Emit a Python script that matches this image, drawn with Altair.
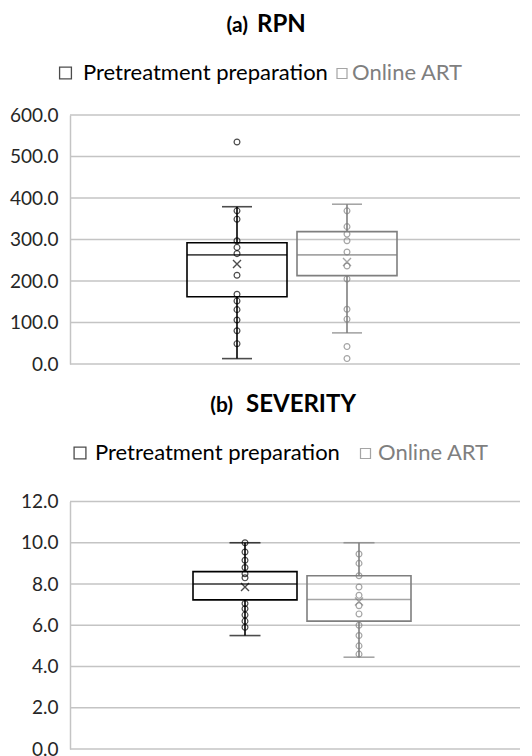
import altair as alt
import pandas as pd

# ---------------- data ----------------
series = ["Pretreatment preparation", "Online ART"]
colors = ["#000000", "#7f7f7f"]

# (a) RPN box statistics (per series)
rpn_lo = [13, 75]
rpn_q1 = [162, 213]
rpn_med = [263, 263]
rpn_q3 = [292, 319]
rpn_hi = [379, 385]
rpn_mean = [241, 246]
rpn_pts_pre = [535, 369, 349, 297, 281, 266, 214, 168, 152, 131, 106, 80, 49]
rpn_pts_art = [369, 331, 313, 297, 270, 236, 205, 132, 108, 42, 13]
rpn_ticks = [0, 100, 200, 300, 400, 500, 600]

# (b) SEVERITY box statistics
sev_lo = [5.5, 4.45]
sev_q1 = [7.23, 6.2]
sev_med = [8.0, 7.25]
sev_q3 = [8.6, 8.4]
sev_hi = [10.0, 10.0]
sev_mean = [7.85, 7.15]
sev_pts_pre = [10.0, 9.55, 9.15, 8.8, 8.5, 8.3, 7.05, 6.8, 6.5, 6.2, 5.9]
sev_pts_art = [9.45, 9.0, 8.4, 7.85, 7.45, 6.95, 6.55, 6.0, 5.5, 5.0, 4.6]
sev_ticks = [0, 2, 4, 6, 8, 10, 12]

titles_a = ["(a)", "RPN"]
titles_b = ["(b)", "SEVERITY"]

FONT = "Lato"
GRID = "#c4c4c4"
W = 450


def panel(lo, q1, med, q3, hi, mean, pts_pre, pts_art, ticks, yrange,
          xrange, pin, pout, bw, cap, titles, title_pos, legend_pos):
    stats = pd.DataFrame({"series": series, "lo": lo, "q1": q1, "med": med,
                          "q3": q3, "hi": hi, "mean": mean})
    pts = pd.DataFrame({
        "series": [series[0]] * len(pts_pre) + [series[1]] * len(pts_art),
        "v": list(pts_pre) + list(pts_art)})
    tk = pd.DataFrame({"t": ticks})

    xs = alt.Scale(domain=series, range=xrange, paddingInner=pin,
                   paddingOuter=pout)
    X = alt.X("series:N", scale=xs, axis=None)
    ys = alt.Scale(domain=[ticks[0], ticks[-1]], range=yrange, nice=False)
    ax = alt.Axis(values=ticks, format=".1f", grid=False, domain=True,
                  domainColor=GRID, domainWidth=1.5, ticks=False,
                  labelFont=FONT, labelFontSize=19, labelColor="#262626",
                  labelPadding=12, orient="left", title=None)
    col = alt.Color("series:N", scale=alt.Scale(domain=series, range=colors),
                    legend=None)
    stk = alt.Stroke("series:N", scale=alt.Scale(domain=series, range=colors),
                     legend=None)

    grid = alt.Chart(tk).mark_rule(color=GRID, strokeWidth=1.3).encode(
        y=alt.Y("t:Q", scale=ys, axis=ax), x=alt.value(0), x2=alt.value(W))
    base = alt.Chart(stats)
    whisk_lo = base.mark_rule(strokeWidth=1.6).encode(
        x=X, y=alt.Y("lo:Q", scale=ys, axis=ax), y2="q1:Q", color=col)
    whisk_hi = base.mark_rule(strokeWidth=1.6).encode(
        x=X, y=alt.Y("q3:Q", scale=ys, axis=ax), y2="hi:Q", color=col)
    box = base.mark_bar(fillOpacity=0, strokeWidth=1.6).encode(
        x=X, y=alt.Y("q1:Q", scale=ys, axis=ax), y2="q3:Q", stroke=stk)
    median = base.mark_tick(size=bw, thickness=1.6).encode(
        x=X, y=alt.Y("med:Q", scale=ys, axis=ax), color=col)
    cap_hi = base.mark_tick(size=cap, thickness=1.6).encode(
        x=X, y=alt.Y("hi:Q", scale=ys, axis=ax), color=col)
    cap_lo = base.mark_tick(size=cap, thickness=1.6).encode(
        x=X, y=alt.Y("lo:Q", scale=ys, axis=ax), color=col)
    points = alt.Chart(pts).mark_point(shape="circle", filled=False, size=34,
                                       strokeWidth=1.2).encode(
        x=X, y=alt.Y("v:Q", scale=ys, axis=ax), color=col)
    means = base.mark_point(shape="M-1,-1L1,1M-1,1L1,-1", filled=False,
                            size=64, strokeWidth=1.4).encode(
        x=X, y=alt.Y("mean:Q", scale=ys, axis=ax), color=col)

    # title
    (tx1, tx2, ty) = title_pos
    t1 = alt.Chart(pd.DataFrame({"t": [titles[0]]})).mark_text(
        font=FONT, fontSize=21, fontWeight="bold", align="right",
        baseline="alphabetic", color="#000000").encode(
        text="t:N", x=alt.value(tx1), y=alt.value(ty))
    t2 = alt.Chart(pd.DataFrame({"t": [titles[1]]})).mark_text(
        font=FONT, fontSize=24, fontWeight="bold", align="left",
        baseline="alphabetic", color="#000000").encode(
        text="t:N", x=alt.value(tx2), y=alt.value(ty))

    # legend
    (sq1, tl1, sq2, tl2, ly) = legend_pos
    l_sq1 = alt.Chart(pd.DataFrame({"s": [series[0]]})).mark_point(
        shape="square", filled=False, size=140, strokeWidth=1.3,
        color=colors[0]).encode(x=alt.value(sq1), y=alt.value(ly - 7))
    l_sq2 = alt.Chart(pd.DataFrame({"s": [series[1]]})).mark_point(
        shape="square", filled=False, size=100, strokeWidth=1.2,
        color=colors[1]).encode(x=alt.value(sq2), y=alt.value(ly - 6.5))
    l_t1 = alt.Chart(pd.DataFrame({"s": [series[0]]})).mark_text(
        font=FONT, fontSize=22, align="left", baseline="alphabetic",
        color="#000000").encode(text="s:N", x=alt.value(tl1), y=alt.value(ly))
    l_t2 = alt.Chart(pd.DataFrame({"s": [series[1]]})).mark_text(
        font=FONT, fontSize=22, align="left", baseline="alphabetic",
        color=colors[1]).encode(text="s:N", x=alt.value(tl2), y=alt.value(ly))

    return alt.layer(grid, whisk_lo, whisk_hi, box, median, cap_hi, cap_lo,
                     points, means, t1, t2, l_sq1, l_sq2, l_t1, l_t2)


top = panel(rpn_lo, rpn_q1, rpn_med, rpn_q3, rpn_hi, rpn_mean, rpn_pts_pre,
            rpn_pts_art, rpn_ticks, [249, 0], [112, 332], 10 / 110, 5 / 110,
            100, 30, titles_a, (178, 187, -83), (-4.5, 13, 272, 282, -35))
bottom = panel(sev_lo, sev_q1, sev_med, sev_q3, sev_hi, sev_mean, sev_pts_pre,
               sev_pts_art, sev_ticks, [634, 386.5], [118, 346], 10 / 114,
               5 / 114, 104, 31, titles_b, (163, 176, 297),
               (10, 25, 295.5, 308, 345))

chart = alt.layer(top, bottom).resolve_scale(
    x="independent", y="independent"
).properties(
    width=W, height=634,
    padding={"left": 62, "top": 107, "right": 4, "bottom": 12},
    autosize=alt.AutoSizeParams(type="none"),
    background="white",
).configure_view(stroke=None)

chart.save("out.html", embed_options={"renderer": "svg", "actions": False})
